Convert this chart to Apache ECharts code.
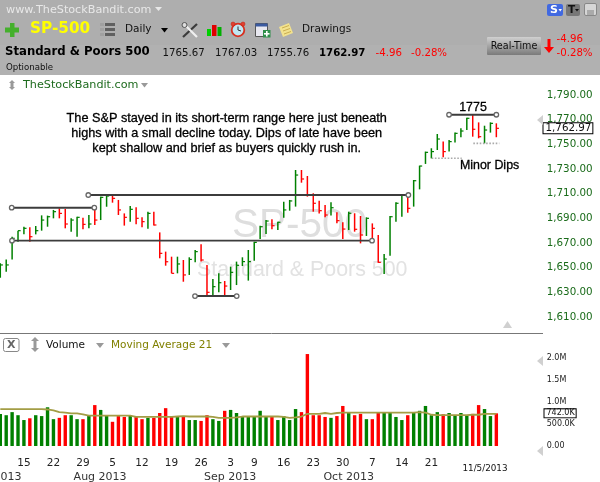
<!DOCTYPE html>
<html><head><meta charset="utf-8">
<style>html,body{margin:0;padding:0;background:#fff}#c{width:600px;height:482px}</style>
<script src="https://cdn.jsdelivr.net/npm/echarts@6/dist/echarts.min.js"></script></head>
<body><div id="c"></div><script>
const highs=[1653.5,1656.7,1675.1,1680.0,1683.2,1682.7,1683.8,1692.4,1692.2,1696.8,1698.1,1697.6,1690.0,1691.3,1690.5,1692.7,1697.6,1707.6,1708.9,1708.9,1704.9,1694.0,1700.0,1698.9,1690.8,1695.4,1695.4,1678.6,1663.0,1658.9,1658.9,1656.2,1658.4,1664.3,1668.9,1652.2,1640.8,1645.4,1639.2,1650.8,1654.9,1658.4,1664.3,1671.1,1684.0,1688.6,1689.2,1687.3,1703.5,1704.9,1729.2,1729.2,1724.3,1710.3,1704.3,1700.8,1703.0,1694.9,1686.8,1695.4,1694.1,1691.9,1690.8,1685.9,1676.5,1661.1,1691.9,1703.0,1709.5,1710.3,1721.1,1732.7,1744.1,1746.8,1758.4,1752.2,1753.5,1759.5,1763.0,1771.6,1773.8,1767.8,1765.1,1767.8,1767.03];
const lows=[1641.9,1646.7,1656.7,1671.1,1677.0,1671.1,1677.0,1680.0,1683.2,1690.0,1690.0,1681.9,1679.2,1675.1,1681.1,1681.9,1684.6,1688.6,1699.4,1702.7,1692.7,1684.1,1687.3,1685.1,1682.7,1681.6,1684.1,1657.6,1651.6,1645.4,1645.4,1638.6,1644.1,1654.3,1654.9,1627.3,1627.0,1630.0,1627.3,1631.9,1635.9,1651.3,1639.5,1655.7,1673.2,1677.3,1681.1,1680.5,1690.5,1696.2,1699.5,1718.9,1707.6,1695.4,1694.0,1690.8,1692.2,1686.0,1673.2,1680.5,1679.2,1669.7,1675.7,1673.8,1654.0,1644.9,1659.7,1687.3,1691.3,1694.6,1699.5,1713.5,1734.1,1738.6,1745.4,1739.5,1744.1,1751.4,1755.7,1761.6,1756.2,1754.9,1750.8,1759.5,1755.76];
const closes=[1652.2,1652.2,1673.8,1680.0,1681.9,1675.1,1680.0,1688.6,1691.3,1695.4,1694.0,1685.4,1688.6,1690.8,1685.1,1685.4,1688.6,1707.0,1708.1,1706.2,1696.8,1690.8,1697.3,1690.0,1687.3,1694.0,1684.6,1661.6,1654.8,1645.4,1653.0,1644.1,1656.7,1663.0,1656.2,1630.0,1634.6,1637.8,1635.1,1646.2,1651.9,1654.9,1654.9,1670.5,1683.2,1687.8,1684.0,1686.8,1696.8,1704.1,1725.1,1721.9,1708.9,1702.2,1696.2,1692.7,1698.6,1688.1,1681.3,1694.1,1681.1,1676.5,1690.0,1681.9,1654.3,1657.0,1691.3,1702.2,1708.9,1698.1,1720.5,1732.4,1743.5,1744.1,1754.3,1744.1,1752.2,1758.9,1760.8,1771.1,1762.2,1756.2,1761.6,1767.0,1762.97];
const volumes=[.73,.70,.77,.70,.59,.63,.70,.68,.88,.61,.64,.70,.70,.61,.61,.70,.93,.82,.70,.55,.68,.66,.70,.66,.61,.64,.64,.75,.86,.66,.66,.68,.59,.59,.57,.70,.61,.57,.80,.82,.75,.66,.68,.66,.80,.68,.66,.59,.68,.59,.84,.77,2.09,.70,.70,.66,.64,.68,.91,.75,.70,.73,.61,.61,.75,.75,.77,.66,.59,.70,.77,.80,.91,.70,.77,.72,.75,.70,.75,.70,.73,.93,.84,.68,.742];
const upFlags="GGGGGRGGGGRRGGRGRGGRRRGRRGRRRRGRGGRRGGRGGGGGGGRGGGGRRRRRGRRGRRGRRGGGGRGGGGGRGGGGRRGGR";
const volumeMA=[.84,.84,.84,.84,.84,.84,.84,.84,.83,.81,.77,.76,.74,.74,.72,.69,.69,.69,.69,.69,.69,.69,.69,.66,.66,.66,.66,.66,.66,.66,.67,.68,.67,.67,.67,.67,.66,.64,.64,.64,.65,.67,.67,.67,.67,.67,.67,.67,.66,.64,.65,.67,.73,.73,.73,.75,.73,.75,.76,.76,.76,.76,.76,.76,.76,.76,.76,.76,.76,.76,.76,.77,.76,.71,.70,.70,.70,.70,.70,.70,.71,.71,.73,.73,.73];
const trendLines=[[1.93,15.92,1698.6],[1.98,62.95,1671.9],[14.9,69.1,1708.9],[32.97,40.03,1627],[75.99,84,1774]];
const dottedLines=[[73.05,78.14,1738.7],[80.1,84.5,1750.8]];
const priceTicks=[1610,1630,1650,1670,1690,1710,1730,1750,1770,1790];
const volumeTicks=[0,.5,1,1.5,2];
const dayTickIndex=[4,9,14,19,24,29,34,39,43,48,53,58,63,68,73];
const dayTickLabels=["15","22","29","5","12","19","26","3","9","16","23","30","7","14","21"];
const monthIndex=[-0.2,16.9,38.9,59];
const monthLabels=["Jul 2013","Aug 2013","Sep 2013","Oct 2013"];
const lastClose=1762.97, lastVolume=.742;
const GREEN='#008000',RED='#ff0000';
const sans='"DejaVu Sans"';

function T(x,y,text,font,fill,align,z,extra){return{type:'text',z:z||10,silent:true,style:Object.assign({x,y,text,font,fill:fill||'#000',align:align||'left',verticalAlign:'middle'},extra||{})}}
function R(x,y,w,h,fill,z,stroke,r){return{type:'rect',z:z||10,silent:true,shape:{x,y,width:w,height:h,r:r||0},style:{fill,stroke:stroke||null,lineWidth:1}}}
function P(points,fill,z){return{type:'polygon',z:z||10,silent:true,shape:{points},style:{fill}}}
function L(x1,y1,x2,y2,stroke,w,z){return{type:'line',z:z||10,silent:true,shape:{x1,y1,x2,y2},style:{stroke,lineWidth:w||1}}}
function C(cx,cy,r,fill,stroke,w,z){return{type:'circle',z:z||10,silent:true,shape:{cx,cy,r},style:{fill,stroke,lineWidth:w||1}}}
const heavy={stroke:'#000',lineWidth:0.3};

const g=[
 R(0,0,600,75,'#aeaeae',9),
 R(0,45,600,30,'#b1b1b1',9),
 T(6,10,'www.TheStockBandit.com','11.2px '+sans,'#e8e8e8'),
 P([[155,7],[162,7],[158.5,11]],'#e8e8e8'),
 R(10,23,4.5,14,'#44b02c'),R(5,27.5,14,5,'#44b02c'),
 T(30,29.5,'SP-500','bold 15.3px '+sans,'#ffff00'),
 R(100,23,4,3,'#a0a0a0'),R(100,28,4,3,'#a0a0a0'),R(100,33,4,3,'#a0a0a0'),
 R(105,23,10,3,'#606060'),R(105,28,10,3,'#606060'),R(105,33,10,3,'#606060'),
 T(125,29.5,'Daily','10.5px '+sans,'#111'),
 P([[161,28],[168,28],[164.5,32.5]],'#000'),
 L(183,37,197,24,'#3a3a3a',2.2),L(184,24,197,37,'#f0f0f0',2.2),C(184.5,25,2.5,'#ddd','#555',1),
 R(207,29,4,7,'#00d000'),R(212,25,4.5,11,'#e00000'),R(217.5,27,4,9,'#00b000'),
 C(238,30,6.3,'#bfe6f2','#d83020',1.8),C(233,24,2,'#e04030','#c02010',.5),C(243,24,2,'#e04030','#c02010',.5),L(238,30,238,26.5,'#333',1),L(238,30,241,31,'#333',1),
 R(255.5,23.5,12,13,'#e8e8f0',10,'#555'),R(255.5,23.5,12,3,'#3a5aa0',10),R(263,30,7.5,7.5,'#2f8f4a',11),R(266,31,1.6,5.5,'#fff',12),R(264,33,5.5,1.6,'#fff',12),
 P([[279,27],[289,23],[293,33],[283,37]],'#f2e28e'),L(282,28,289,25.5,'#c0a040',.8),L(283,31,290,28.5,'#c0a040',.8),L(284,34,291,31.5,'#c0a040',.8),
 T(302,29.5,'Drawings','10.5px '+sans,'#111'),
 R(547,4,16,12,'#4169e1',10,null,2),T(550,10,'S','bold 11px '+sans,'#fff'),P([[558.5,9],[562,9],[560.2,11.5]],'#fff'),
 R(566,4,14,12,'#777',10,null,2),T(568,10,'T','bold 10.5px '+sans,'#111'),P([[575,9],[579,9],[577,11.5]],'#111'),
 R(584.5,3.5,12,12,'#d6d6d6',10,'#888',1.5),R(587,10,7,5,'#aaa',11),
 T(5,52,'Standard & Poors 500','bold 11.7px '+sans,'#000'),
 T(162.5,53,'1765.67','10.2px '+sans,'#111'),
 T(215,53,'1767.03','10.2px '+sans,'#111'),
 T(267,53,'1755.76','10.2px '+sans,'#111'),
 T(319,53,'1762.97','bold 10.2px '+sans,'#000'),
 T(375.5,53,'-4.96','10.2px '+sans,'#ff0000'),
 T(411,53,'-0.28%','10.2px '+sans,'#ff0000'),
 T(6,68,'Optionable','8.6px '+sans,'#111'),
 {type:'rect',z:10,silent:true,shape:{x:487,y:37,width:54,height:18,r:1},style:{fill:{type:'linear',x:0,y:0,x2:0,y2:1,colorStops:[{offset:0,color:'#d0d0d0'},{offset:1,color:'#7a7a7a'}]}}},
 T(514,46,'Real-Time','9.6px '+sans,'#111','center'),
 P([[547.5,39],[550.5,39],[550.5,47],[554,47],[549,53],[544,47],[547.5,47]],'#ff0000'),
 T(556.5,39,'-4.96','10.2px '+sans,'#ff0000'),
 T(556.5,53,'-0.28%','10.2px '+sans,'#ff0000'),
 P([[12,80],[15,83],[9,83]],'#999'),R(10.5,83,3,4,'#999'),P([[12,90],[15,87],[9,87]],'#999'),
 T(23,85.5,'TheStockBandit.com','11.2px '+sans,'#1e6b1e'),
 P([[141,83],[148,83],[144.5,87.5]],'#999'),
 T(232,226,'SP-500','40.5px "Liberation Sans"','#dedede','left',1),
 T(197,270,'Standard & Poors 500','21.4px "Liberation Sans"','#e2e2e2','left',1),
 T(226.7,118,'The S&P stayed in its short-term range here just beneath','12.7px "Liberation Sans"','#000','center',10,heavy),
 T(226.7,133,'highs with a small decline today. Dips of late have been','12.7px "Liberation Sans"','#000','center',10,heavy),
 T(226.7,148,'kept shallow and brief as buyers quickly rush in.','12.7px "Liberation Sans"','#000','center',10,heavy),
 T(473,108,'1775','12.4px "Liberation Sans"','#000','center',10,heavy),
 T(460,166,'Minor Dips','12.4px "Liberation Sans"','#000','left',10,heavy),
 P([[537,120],[543,115],[543,125]],'#d0d0d0'),
 P([[537,361],[543,356],[543,366]],'#d0d0d0'),
 P([[537,451],[543,446],[543,456]],'#d0d0d0'),
 P([[503,328],[512,328],[507.5,321]],'#d0d0d0'),
 L(0,333.5,543,333.5,'#777',1),
 R(3.5,338.5,15.5,13,'#fff',10,'#888',2),T(11.2,345,'X','bold 11px '+sans,'#666','center'),
 P([[35,337],[39,341],[31,341]],'#999'),R(33.5,341,3,7,'#999'),P([[35,352],[39,348],[31,348]],'#999'),
 T(46,345.5,'Volume','10.5px '+sans,'#111'),
 P([[96,343],[104,343],[100,348]],'#999'),
 T(111,345.5,'Moving Average 21','10.5px '+sans,'#808000'),
 P([[222,343],[230,343],[226,348]],'#999'),
 T(485,469,'11/5/2013','8.8px '+sans,'#111','center')
];

const xmin=-5.131,xmax=89.70;
const hidden={show:false};
const labelMap=(idx,lab)=>{const m={};idx.forEach((v,i)=>m[v]=lab[i]);return m};
const dayMap=labelMap(dayTickIndex,dayTickLabels), monthMap=labelMap(monthIndex,monthLabels);
const fmtVol=v=>v===0?'0.00':v===.5?'500.0K':v.toFixed(1)+'M';

const priceData=highs.map((h,i)=>[i,h,lows[i],closes[i]]);
const colorOf=i=>upFlags[i]==='G'?GREEN:RED;

const option={
 animation:false,
 backgroundColor:'#fff',
 graphic:{elements:g},
 grid:[
  {left:-30,width:560,top:70.33,height:271.33,outerBoundsMode:'none'},
  {left:-30,width:560,top:336,height:110,outerBoundsMode:'none'}
 ],
 xAxis:[
  {type:'value',gridIndex:0,min:xmin,max:xmax,show:false,splitLine:hidden},
  {type:'value',gridIndex:1,min:xmin,max:xmax,position:'bottom',splitLine:hidden,axisLine:hidden,axisTick:hidden,
   axisLabel:{customValues:dayTickIndex,formatter:v=>dayMap[v],margin:12,color:'#222',fontFamily:'DejaVu Sans',fontSize:10.5}},
  {type:'value',gridIndex:1,min:xmin,max:xmax,position:'bottom',offset:14,splitLine:hidden,axisLine:hidden,axisTick:hidden,
   axisLabel:{customValues:monthIndex,formatter:v=>monthMap[v],margin:12,color:'#333',fontFamily:'DejaVu Sans',fontSize:11}}
 ],
 yAxis:[
  {type:'value',gridIndex:0,position:'right',min:1590,max:1810,splitLine:hidden,axisLine:hidden,axisTick:hidden,
   axisLabel:{customValues:priceTicks,margin:16.7,color:'#1a6b1a',fontFamily:'DejaVu Sans',fontSize:10.3,padding:[2,0,0,0],
    formatter:v=>v.toLocaleString('en-US',{minimumFractionDigits:2})}},
  {type:'value',gridIndex:0,position:'right',min:1590,max:1810,splitLine:hidden,axisLine:hidden,axisTick:hidden,z:5,
   axisLabel:{customValues:[lastClose],margin:13.5,color:'#111',fontFamily:'DejaVu Sans',fontSize:10.3,lineHeight:10,backgroundColor:'#fff',borderColor:'#000',borderWidth:1,padding:[0,1,0,2],
    formatter:v=>v.toLocaleString('en-US',{minimumFractionDigits:2})}},
  {type:'value',gridIndex:1,position:'right',min:0,max:2.5,splitLine:hidden,axisLine:hidden,axisTick:hidden,
   axisLabel:{customValues:volumeTicks,margin:16.7,color:'#222',fontFamily:'DejaVu Sans',fontSize:8,padding:[0,0,2,0],formatter:fmtVol}},
  {type:'value',gridIndex:1,position:'right',min:0,max:2.5,splitLine:hidden,axisLine:hidden,axisTick:hidden,z:5,
   axisLabel:{customValues:[lastVolume],margin:14.5,color:'#111',fontFamily:'DejaVu Sans',fontSize:8,lineHeight:8,backgroundColor:'#fff',borderColor:'#000',borderWidth:1,padding:[0,1,0,2],
    formatter:v=>(v*1000).toFixed(1)+'K'}}
 ],
 series:[
  {type:'custom',xAxisIndex:0,yAxisIndex:0,z:3,clip:false,data:priceData,
   encode:{x:0,y:[1,2,3]},
   renderItem(p,api){
    const i=api.value(0),hi=api.coord([i,api.value(1)]),lo=api.coord([i,api.value(2)]),cl=api.coord([i,api.value(3)]);
    const c=colorOf(i),st={stroke:c,lineWidth:1.5};
    return{type:'group',children:[
     {type:'line',shape:{x1:hi[0],y1:hi[1],x2:lo[0],y2:lo[1]},style:st},
     {type:'line',shape:{x1:cl[0],y1:cl[1],x2:cl[0]+2.6,y2:cl[1]},style:{stroke:c,lineWidth:1.2}}
    ]};
   }},
  ...trendLines.map(t=>({type:'line',xAxisIndex:0,yAxisIndex:0,z:4,data:[[t[0],t[2]],[t[1],t[2]]],
    lineStyle:{color:'#3c3c3c',width:1.9},symbol:'circle',symbolSize:4.5,showSymbol:true,
    itemStyle:{color:'#fff',borderColor:'#666',borderWidth:1.3}})),
  ...dottedLines.map(t=>({type:'line',xAxisIndex:0,yAxisIndex:0,z:4,data:[[t[0],t[2]],[t[1],t[2]]],
    lineStyle:{color:'#aaa',width:1.6,type:[1.6,1.6]},symbol:'none'})),
  {type:'bar',xAxisIndex:1,yAxisIndex:2,z:3,barWidth:3.4,
   data:volumes.map((v,i)=>({value:[i,v],itemStyle:{color:colorOf(i)}}))},
  {type:'line',xAxisIndex:1,yAxisIndex:2,z:4,symbol:'none',data:volumeMA.map((v,i)=>[i,v]),
   lineStyle:{color:'#a39d45',width:1.8}}
 ]
};
const chart=echarts.init(document.getElementById('c'),null,{renderer:'canvas'});
chart.setOption(option);
</script></body></html>
